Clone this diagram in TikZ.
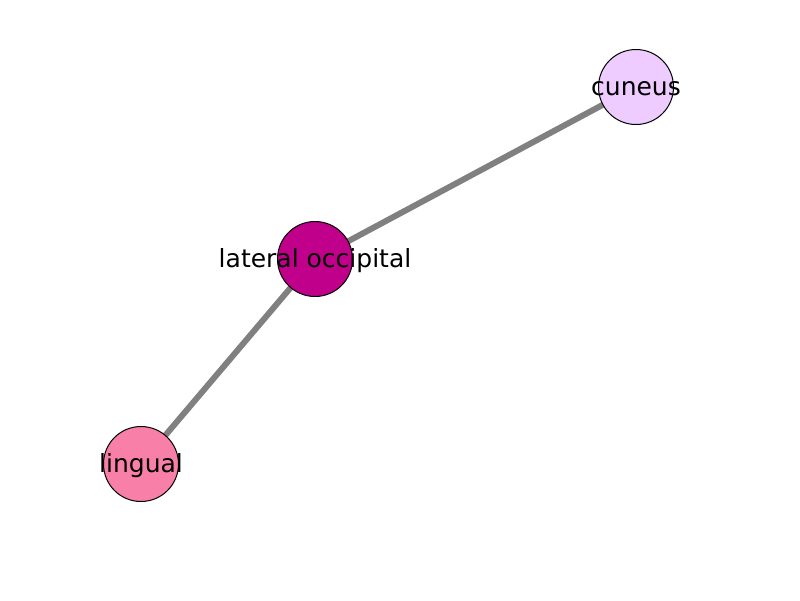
\documentclass[tikz,border=0pt]{standalone}
\usepackage{fontspec}
\setmainfont{DejaVu Sans}
\definecolor{cunc}{HTML}{EECCFF}
\definecolor{latc}{HTML}{C0008A}
\definecolor{linc}{HTML}{F77FA8}
\definecolor{edgec}{HTML}{808080}
\begin{document}
\begin{tikzpicture}[x=0.72pt,y=-0.72pt,
  roi/.style={circle,draw=black,line width=0.72pt,minimum size=54pt,inner sep=0pt},
  lbl/.style={font=\fontsize{18}{21}\selectfont,inner sep=0pt,anchor=center,yshift=-1.1pt},
  edge/.style={draw=edgec,line width=4.3pt}]
\useasboundingbox (0,0) rectangle (800,600);
\coordinate (pc) at (636,87);
\coordinate (pl) at (315,259);
\coordinate (pg) at (141,464);
\draw[edge] (pl) -- (pc);
\draw[edge] (pl) -- (pg);
\node[roi,fill=cunc] (c) at (pc) {};
\node[roi,fill=latc] (l) at (pl) {};
\node[roi,fill=linc] (g) at (pg) {};
\node[lbl] (tc) at (pc) {cuneus};
\node[lbl] (tl) at (pl) {lateral occipital};
\node[lbl] (tg) at (pg) {lingual};
\end{tikzpicture}
\end{document}
